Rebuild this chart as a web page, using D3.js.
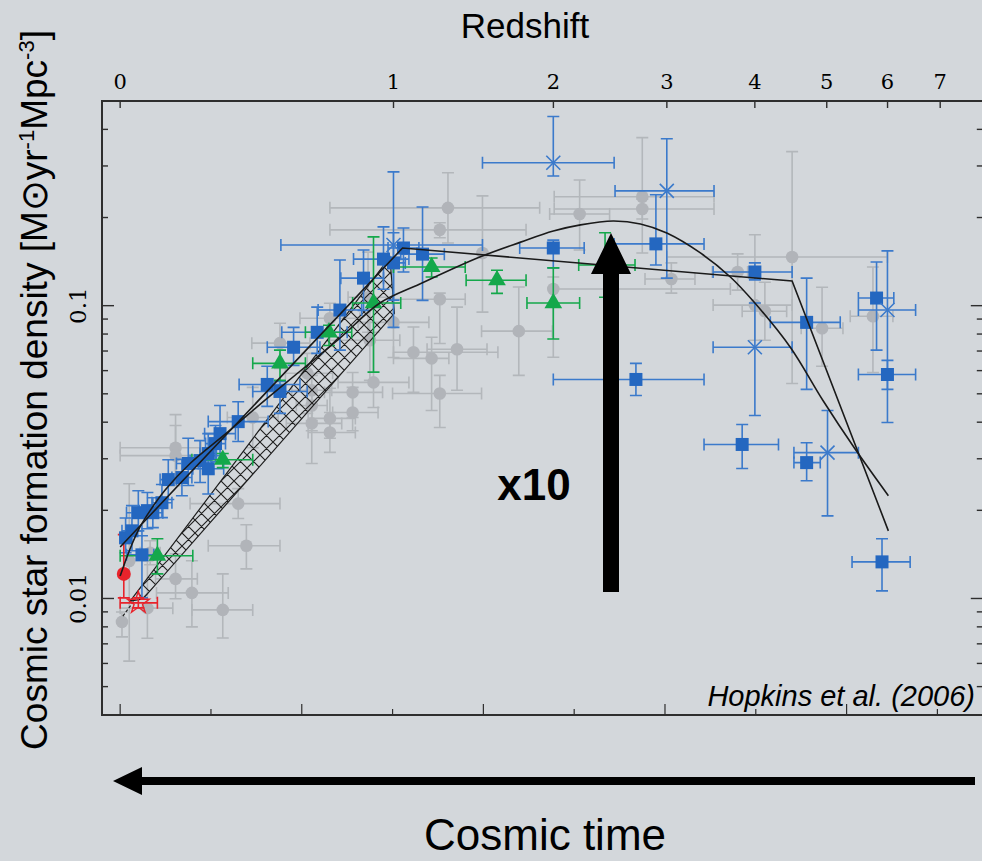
<!DOCTYPE html>
<html>
<head>
<meta charset="utf-8">
<script src="https://cdn.jsdelivr.net/npm/d3@7"></script>
<style>
  html, body { margin: 0; padding: 0; background: #d3d7db; }
  svg { display: block; }
</style>
</head>
<body>
<div id="chart"></div>
<script>
// x values are log10(1+z), y values are log10(rho_SFR)
// rows: [x, y, xMinus, xPlus, yMinus, yPlus]
const greyPoints = [
  [0.002, -2.080, 0, 0, 0.051, 0.034],
  [0.010, -1.872, 0, 0, 0.342, 0.264],
  [0.030, -2.033, 0.030, 0.028, 0.103, 0.161],
  [0.033, -1.844, 0.011, 0.011, 0.041, 0.041],
  [0.061, -1.933, 0.022, 0.024, 0.068, 0.086],
  [0.079, -1.981, 0.039, 0.040, 0.116, 0.110],
  [0.113, -2.039, 0.034, 0.033, 0.096, 0.123],
  [0.139, -1.820, 0.042, 0.037, 0.079, 0.072],
  [0.130, -1.676, 0.053, 0.046, 0.051, 0.051],
  [0.061, -1.485, 0.061, 0.028, 0.103, 0.113],
  [0.061, -1.512, 0.061, 0.028, 0.103, 0.103],
  [0.146, -1.382, 0.028, 0.028, 0.103, 0.103],
  [0.176, -1.128, 0.031, 0.033, 0.086, 0.068],
  [0.206, -1.231, 0.024, 0.028, 0.137, 0.068],
  [0.211, -1.289, 0.022, 0.022, 0.103, 0.051],
  [0.211, -1.341, 0.017, 0.017, 0.086, 0.051],
  [0.211, -1.402, 0.028, 0.033, 0.137, 0.068],
  [0.231, -1.385, 0.024, 0.028, 0.068, 0.103],
  [0.231, -1.433, 0.024, 0.028, 0.068, 0.068],
  [0.256, -1.296, 0.031, 0.033, 0.086, 0.068],
  [0.256, -1.365, 0.022, 0.028, 0.062, 0.086],
  [0.279, -1.262, 0.039, 0.039, 0.086, 0.171],
  [0.275, -1.118, 0.044, 0.033, 0.137, 0.137],
  [0.231, -1.043, 0.033, 0.033, 0.051, 0.051],
  [0.273, -0.971, 0.022, 0.028, 0.120, 0.154],
  [0.301, -1.057, 0.039, 0.039, 0.120, 0.065],
  [0.323, -1.159, 0.022, 0.093, 0.137, 0.086],
  [0.343, -1.180, 0.042, 0.019, 0.178, 0.072],
  [0.371, -1.149, 0.033, 0.033, 0.140, 0.144],
  [0.352, -1.300, 0.052, 0.046, 0.116, 0.062],
  [0.352, -0.978, 0.052, 0.028, 0.151, 0.021],
  [0.361, -0.666, 0.130, 0.101, 0.120, 0.120],
  [0.352, -0.741, 0.121, 0.095, 0.027, 0.024],
  [0.399, -0.820, 0, 0, 0.202, 0.195],
  [0.439, -1.087, 0.041, 0.037, 0.151, 0.151],
  [0.477, -0.943, 0, 0.195, 0.233, 0.041],
  [0.506, -0.687, 0.033, 0.033, 0.123, 0.116],
  [0.575, -0.628, 0.097, 0.079, 0.192, 0.202],
  [0.575, -0.670, 0.097, 0.079, 0.034, 0.034],
  [0.607, -0.909, 0.029, 0.026, 0.048, 0.055],
  [0.740, -0.834, 0.138, 0.105, 0.432, 0.360],
  [0.680, -0.885, 0.028, 0.011, 0.062, 0.062],
  [0.699, -0.998, 0.046, 0.041, 0.120, 0.240],
  [0.710, -1.019, 0.025, 0.024, 0.099, 0.099],
  [0.773, -1.077, 0.023, 0.023, 0.130, 0.140],
  [0.829, -1.036, 0.025, 0.022, 0.192, 0.168]
];

const blueSquares = [
  [0.006, -1.793, 0.006, 0.006, 0.051, 0.068],
  [0.013, -1.769, 0.011, 0.011, 0.068, 0.086],
  [0.024, -1.851, 0.017, 0.013, 0.147, 0.065],
  [0.020, -1.707, 0.013, 0.009, 0.062, 0.075],
  [0.030, -1.700, 0.009, 0.009, 0.062, 0.062],
  [0.036, -1.707, 0.009, 0.011, 0.051, 0.051],
  [0.046, -1.673, 0.011, 0.011, 0.051, 0.062],
  [0.053, -1.594, 0.009, 0.009, 0.068, 0.068],
  [0.068, -1.587, 0.011, 0.011, 0.062, 0.062],
  [0.075, -1.539, 0.013, 0.011, 0.075, 0.086],
  [0.088, -1.529, 0.011, 0.013, 0.075, 0.068],
  [0.097, -1.557, 0.017, 0.017, 0.086, 0.068],
  [0.097, -1.505, 0.009, 0.009, 0.068, 0.068],
  [0.105, -1.471, 0.011, 0.011, 0.062, 0.062],
  [0.110, -1.437, 0.017, 0.017, 0.075, 0.096],
  [0.130, -1.396, 0.033, 0.033, 0.068, 0.068],
  [0.162, -1.269, 0.031, 0.036, 0.075, 0.062],
  [0.176, -1.293, 0.030, 0.030, 0.075, 0.034],
  [0.191, -1.142, 0.029, 0.029, 0.062, 0.068],
  [0.217, -1.091, 0.039, 0.033, 0.072, 0.086],
  [0.242, -1.015, 0.024, 0.024, 0.137, 0.171],
  [0.268, -0.906, 0.025, 0.022, 0.110, 0.096],
  [0.290, -0.841, 0.033, 0.028, 0.103, 0.110],
  [0.301, -0.854, 0.011, 0.013, 0.127, 0.103],
  [0.312, -0.803, 0.017, 0.017, 0.082, 0.068],
  [0.333, -0.824, 0.024, 0.024, 0.158, 0.161],
  [0.477, -0.803, 0.037, 0.034, 0.068, 0.027],
  [0.590, -0.789, 0.046, 0.053, 0.072, 0.168],
  [0.568, -1.252, 0.091, 0.075, 0.055, 0.055],
  [0.699, -0.885, 0.046, 0.041, 0.027, 0.031],
  [0.756, -1.057, 0.040, 0.037, 0.229, 0.151],
  [0.833, -0.974, 0.020, 0.019, 0.178, 0.123],
  [0.845, -1.235, 0.032, 0.031, 0.051, 0.048],
  [0.685, -1.474, 0.042, 0.040, 0.082, 0.068],
  [0.756, -1.536, 0.014, 0.015, 0.062, 0.068],
  [0.839, -1.875, 0.033, 0.031, 0.099, 0.079]
];

const blueCrosses = [
  [0.477, -0.512, 0.078, 0.067, 0.045, 0.158],
  [0.602, -0.608, 0.057, 0.052, 0.298, 0.178],
  [0.699, -1.142, 0.046, 0.041, 0.233, 0.151],
  [0.845, -1.015, 0.032, 0.031, 0.384, 0.202],
  [0.779, -1.502, 0.037, 0.034, 0.216, 0.144],
  [0.301, -0.793, 0.124, 0.098, 0.281, 0.250]
];

const greenTriangles = [
  [0.534, -0.861, 0.029, 0.033, 0.110, 0.110],
  [0.477, -0.991, 0.029, 0.029, 0.123, 0.120],
  [0.415, -0.913, 0.034, 0.032, 0.045, 0.034],
  [0.343, -0.868, 0.042, 0.037, 0.034, 0.031],
  [0.279, -0.991, 0.023, 0.030, 0.236, 0.226],
  [0.230, -1.091, 0.026, 0.025, 0.045, 0.024],
  [0.176, -1.197, 0.030, 0.028, 0.058, 0.045],
  [0.113, -1.526, 0.034, 0.033, 0.027, 0.021],
  [0.041, -1.854, 0.041, 0.039, 0.062, 0.058]
];

const redCircles = [[0.004, -1.916, 0, 0, 0.082, 0.134]];
const redStars = [[0.020, -2.015, 0.020, 0.021, 0.017, 0.017]];

// fits: [x, y]
const smoothFit = [
  [0.000, -1.923], [0.011, -1.830], [0.022, -1.755], [0.033, -1.700], [0.050, -1.628],
  [0.077, -1.539], [0.118, -1.433], [0.154, -1.337], [0.198, -1.224], [0.242, -1.111],
  [0.286, -0.991], [0.330, -0.926], [0.396, -0.834], [0.441, -0.783], [0.477, -0.745],
  [0.507, -0.724], [0.543, -0.711], [0.573, -0.721], [0.602, -0.752], [0.639, -0.820],
  [0.672, -0.902], [0.699, -0.991], [0.738, -1.142], [0.774, -1.324], [0.809, -1.488],
  [0.846, -1.649]
];
const brokenFit = [[0.000, -1.824], [0.311, -0.803], [0.740, -0.916], [0.846, -1.769]];
const hatchBand = [[0.011, -2.009], [0.297, -0.834], [0.302, -1.026], [0.025, -2.002]];
const bandTail = [[0.003, -2.060], [0.016, -2.005]];

const redshiftTicks = [0, 1, 2, 3, 4, 5, 6, 7];
const rhoLabels = [0.01, 0.1];
const rhoMinor = [0.004, 0.005, 0.006, 0.007, 0.008, 0.009, 0.02, 0.03, 0.04, 0.05, 0.06,
                  0.07, 0.08, 0.09, 0.2, 0.3, 0.4];
const timeTicks = [0, 0.1, 0.2, 0.3, 0.4, 0.5, 0.6, 0.7, 0.8, 0.9];

const width = 982, height = 861;
const plotLeft = 102, plotTop = 101, plotBottom = 715, plotRight = 982.8;
const axisColor = "#2e2e2e";
const blue = "#2467c0", blueBar = "#3b7acb";
const grey = "#b1b4b9", green = "#14a84b", red = "#e8232b";

const svg = d3.select("#chart").append("svg")
    .attr("width", width)
    .attr("height", height);

svg.append("rect").attr("width", width).attr("height", height).attr("fill", "#d3d7db");

const x = d3.scaleLinear().domain([-0.02, 0.95]).range([plotLeft, plotRight]);
const y = d3.scaleLinear().domain([Math.log10(0.004), Math.log10(0.5)]).range([plotBottom, plotTop]);

// hatch pattern for the band
const hs = 13;
const pat = svg.append("defs").append("pattern")
    .attr("id", "hatch")
    .attr("patternUnits", "userSpaceOnUse")
    .attr("width", hs).attr("height", hs);
pat.append("path")
    .attr("d", "M0,0L" + hs + "," + hs + "M-2,2L2,-2M" + hs + ",0L0," + hs +
               "M" + (hs - 2) + "," + (hs + 2) + "L" + (hs + 2) + "," + (hs - 2) +
               "M-2," + (hs - 2) + "L2," + (hs + 2) + "M" + (hs - 2) + ",-2L" + (hs + 2) + ",2")
    .attr("stroke", "#1e1e1e")
    .attr("stroke-width", 1.1);

function errorBars(data, color, cap) {
  const g = svg.append("g").attr("stroke", color).attr("stroke-width", 1.6).attr("fill", "none");
  const p = g.selectAll("g").data(data).enter().append("g");
  p.filter(d => d[2] + d[3] > 0).append("path")
    .attr("d", d => {
      const x0 = x(d[0] - d[2]), x1 = x(d[0] + d[3]), cy = y(d[1]);
      return "M" + x0 + "," + cy + "H" + x1 +
             "M" + x0 + "," + (cy - cap) + "V" + (cy + cap) +
             "M" + x1 + "," + (cy - cap) + "V" + (cy + cap);
    });
  p.filter(d => d[4] + d[5] > 0).append("path")
    .attr("d", d => {
      const y0 = y(d[1] - d[4]), y1 = y(d[1] + d[5]), cx = x(d[0]);
      return "M" + cx + "," + y0 + "V" + y1 +
             "M" + (cx - cap) + "," + y0 + "H" + (cx + cap) +
             "M" + (cx - cap) + "," + y1 + "H" + (cx + cap);
    });
}

// grey compilation
errorBars(greyPoints, "#b3b7bb", 6);
svg.append("g").selectAll("circle").data(greyPoints).enter().append("circle")
    .attr("cx", d => x(d[0])).attr("cy", d => y(d[1])).attr("r", 6.3)
    .attr("fill", grey);

// hatched band
svg.append("path")
    .datum(hatchBand)
    .attr("d", d3.line().x(d => x(d[0])).y(d => y(d[1])).curve(d3.curveLinearClosed))
    .attr("fill", "url(#hatch)")
    .attr("stroke", "#1e1e1e")
    .attr("stroke-width", 1.2);
svg.append("path")
    .datum(bandTail)
    .attr("d", d3.line().x(d => x(d[0])).y(d => y(d[1])))
    .attr("stroke", "#1e1e1e")
    .attr("stroke-width", 1.2)
    .attr("stroke-dasharray", "3,2");

// coloured data
errorBars(blueSquares, blueBar, 6);
errorBars(blueCrosses, blueBar, 6);
errorBars(greenTriangles, green, 6);
errorBars(redCircles, red, 6);
errorBars(redStars, red, 6);

svg.append("g").selectAll("path").data(blueSquares).enter().append("path")
    .attr("transform", d => "translate(" + x(d[0]) + "," + y(d[1]) + ")")
    .attr("d", d3.symbol(d3.symbolSquare, 169))
    .attr("fill", blue);

svg.append("g").selectAll("path").data(blueCrosses).enter().append("path")
    .attr("transform", d => "translate(" + x(d[0]) + "," + y(d[1]) + ")")
    .attr("d", "M-7,-7L7,7M-7,7L7,-7")
    .attr("stroke", blueBar)
    .attr("stroke-width", 1.6);

svg.append("g").selectAll("path").data(greenTriangles).enter().append("path")
    .attr("transform", d => "translate(" + x(d[0]) + "," + y(d[1]) + ")")
    .attr("d", d3.symbol(d3.symbolTriangle, 135))
    .attr("fill", green);

svg.append("g").selectAll("circle").data(redCircles).enter().append("circle")
    .attr("cx", d => x(d[0])).attr("cy", d => y(d[1])).attr("r", 7)
    .attr("fill", red);

svg.append("g").selectAll("path").data(redStars).enter().append("path")
    .attr("transform", d => "translate(" + x(d[0]) + "," + y(d[1]) + ")")
    .attr("d", d3.symbol(d3.symbolStar, 150))
    .attr("fill", "none")
    .attr("stroke", red)
    .attr("stroke-width", 1.4);

// fits
svg.append("path").datum(smoothFit)
    .attr("d", d3.line().x(d => x(d[0])).y(d => y(d[1])).curve(d3.curveCatmullRom))
    .attr("fill", "none").attr("stroke", "#1a1a1a").attr("stroke-width", 1.6);
svg.append("path").datum(brokenFit)
    .attr("d", d3.line().x(d => x(d[0])).y(d => y(d[1])))
    .attr("fill", "none").attr("stroke", "#1a1a1a").attr("stroke-width", 1.6);

// frame and ticks
const axes = svg.append("g").attr("stroke", axisColor).attr("fill", "none");
axes.append("path")
    .attr("d", "M" + plotRight + "," + plotTop + "H" + plotLeft + "V" + plotBottom + "H" + plotRight)
    .attr("stroke-width", 2);

axes.selectAll(".ztick").data(redshiftTicks).enter().append("path")
    .attr("d", d => "M" + x(Math.log10(1 + d)) + "," + plotTop + "v7")
    .attr("stroke-width", 1.4);

axes.selectAll(".ttick").data(timeTicks).enter().append("path")
    .attr("d", (d, i) => "M" + x(d) + "," + plotBottom + "v" + (i % 2 === 0 ? -11 : -6))
    .attr("stroke-width", 1.2);

[plotLeft, plotRight].forEach(edge => {
  const dir = edge === plotLeft ? 1 : -1;
  axes.selectAll(null).data(rhoMinor).enter().append("path")
      .attr("d", d => "M" + edge + "," + y(Math.log10(d)) + "h" + (6 * dir))
      .attr("stroke-width", 1.4);
  axes.selectAll(null).data(rhoLabels).enter().append("path")
      .attr("d", d => "M" + edge + "," + y(Math.log10(d)) + "h" + (12 * dir))
      .attr("stroke-width", 1.4);
});

// tick labels
svg.append("g").selectAll("text").data(redshiftTicks).enter().append("text")
    .attr("x", d => x(Math.log10(1 + d)))
    .attr("y", 89)
    .attr("text-anchor", "middle")
    .style("font-family", "DejaVu Serif, serif")
    .style("font-size", "21px")
    .text(d => d);

svg.append("g").selectAll("text").data(rhoLabels).enter().append("text")
    .attr("transform", d => "translate(86," + y(Math.log10(d)) + ") rotate(-90)")
    .attr("text-anchor", "middle")
    .style("font-family", "DejaVu Serif, serif")
    .style("font-size", "23px")
    .text(d => d);

// titles
svg.append("text")
    .attr("x", 525).attr("y", 38)
    .attr("text-anchor", "middle")
    .style("font-family", "Liberation Sans, Arial, sans-serif")
    .style("font-size", "35px")
    .text("Redshift");

const ylab = svg.append("text")
    .attr("transform", "translate(47,390) rotate(-90)")
    .attr("text-anchor", "middle")
    .style("font-family", "Liberation Sans, Arial, sans-serif")
    .style("font-size", "37px");
ylab.append("tspan").text("Cosmic star formation density [M\u2299yr");
ylab.append("tspan").attr("dy", -13).style("font-size", "22px").text("-1");
ylab.append("tspan").attr("dy", 13).text("Mpc");
ylab.append("tspan").attr("dy", -13).style("font-size", "22px").text("-3");
ylab.append("tspan").attr("dy", 13).text("]");

svg.append("text")
    .attr("x", 975).attr("y", 706)
    .attr("text-anchor", "end")
    .style("font-family", "Liberation Sans, Arial, sans-serif")
    .style("font-style", "italic")
    .style("font-size", "29px")
    .text("Hopkins et al. (2006)");

// x10 arrow
svg.append("path")
    .attr("d", "M603,592V274H591L611,233L631,274H619V592Z")
    .attr("fill", "#000");
svg.append("text")
    .attr("x", 534).attr("y", 500)
    .attr("text-anchor", "middle")
    .style("font-family", "Liberation Sans, Arial, sans-serif")
    .style("font-weight", "bold")
    .style("font-size", "44px")
    .text("x10");

// cosmic time arrow
svg.append("path")
    .attr("d", "M975,777H142V767L113,781L142,795V785H975Z")
    .attr("fill", "#000");
svg.append("text")
    .attr("x", 545).attr("y", 850)
    .attr("text-anchor", "middle")
    .style("font-family", "Liberation Sans, Arial, sans-serif")
    .style("font-size", "44px")
    .text("Cosmic time");
</script>
</body>
</html>
